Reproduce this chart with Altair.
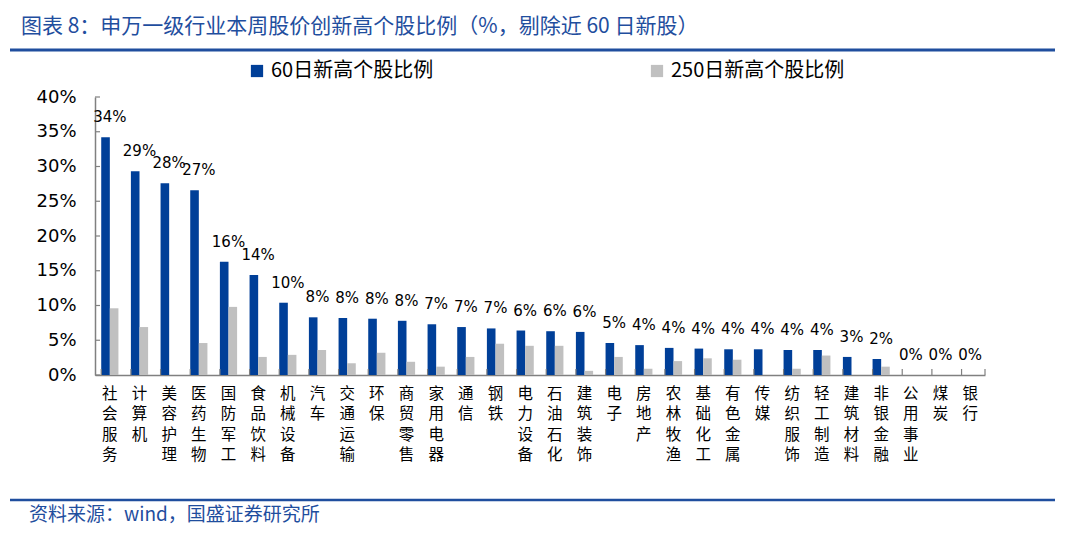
import altair as alt
import pandas as pd

categories = ["社会服务", "计算机", "美容护理", "医药生物", "国防军工", "食品饮料", "机械设备", "汽车",
              "交通运输", "环保", "商贸零售", "家用电器", "通信", "钢铁", "电力设备", "石油石化",
              "建筑装饰", "电子", "房地产", "农林牧渔", "基础化工", "有色金属", "传媒", "纺织服饰",
              "轻工制造", "建筑材料", "非银金融", "公用事业", "煤炭", "银行"]
series_names = ["60日新高个股比例", "250日新高个股比例"]
ratio_60 = [34.2, 29.3, 27.6, 26.6, 16.3, 14.4, 10.4, 8.3, 8.2, 8.1, 7.8, 7.3, 6.9, 6.7, 6.4,
            6.3, 6.2, 4.6, 4.3, 3.9, 3.8, 3.7, 3.7, 3.6, 3.6, 2.6, 2.3, 0, 0, 0]
ratio_250 = [9.6, 6.9, 0, 4.6, 9.8, 2.6, 2.9, 3.6, 1.7, 3.2, 1.9, 1.2, 2.6, 4.5, 4.2,
             4.2, 0.6, 2.6, 0.9, 2.0, 2.4, 2.2, 0, 0.9, 2.8, 0, 1.2, 0, 0, 0]
y_ticks = [0, 5, 10, 15, 20, 25, 30, 35, 40]

title_text = "图表 8：申万一级行业本周股价创新高个股比例（%，剔除近 60 日新股）"
source_text = "资料来源：wind，国盛证券研究所"

BLUE = "#003f98"
GREY = "#c0c0c0"
TITLE_BLUE = "#1f4e9e"
AXIS_GREY = "#808080"
CJK = "Noto Sans CJK SC"
NUM = "DejaVu Sans"

W, H = 890, 278

long_rows = []
for c, a, b in zip(categories, ratio_60, ratio_250):
    long_rows.append({"cat": c, "series": series_names[0], "value": a})
    long_rows.append({"cat": c, "series": series_names[1], "value": b})
df_long = pd.DataFrame(long_rows)
df60 = pd.DataFrame({"cat": categories, "value": ratio_60})
df_cats = pd.DataFrame({"cat": categories})
df_yt = pd.DataFrame({"value": y_ticks})
df_one = pd.DataFrame({"t": [title_text], "s": [source_text]})

xscale = alt.Scale(domain=categories, paddingInner=0.42, paddingOuter=0.21)
yscale = alt.Scale(domain=[0, 40], nice=False)

x_axis = alt.Axis(title=None, labelAngle=0, ticks=False, domainColor=AXIS_GREY, domainWidth=1.5,
                  labelExpr="split(datum.label, '')", labelFont=CJK, labelFontSize=15.5,
                  labelLineHeight=20.5, labelBaseline="top", labelPadding=11, labelColor="#000000",
                  labelOverlap=False)
y_axis = alt.Axis(title=None, values=y_ticks, labelExpr="datum.value + '%'", ticks=False, grid=False,
                  domainColor=AXIS_GREY, domainWidth=1.5, labelFont=NUM, labelFontSize=18,
                  labelPadding=19, labelColor="#000000", labelOverlap=False, labelFlush=False)

X = alt.X("cat:N", scale=xscale, sort=categories, axis=x_axis)
Y = alt.Y("value:Q", scale=yscale, axis=y_axis)

bars = alt.Chart(df_long).mark_bar().encode(
    x=X,
    xOffset=alt.XOffset("series:N", sort=series_names,
                        scale=alt.Scale(domain=series_names, paddingInner=0, paddingOuter=0)),
    y=Y,
    color=alt.Color("series:N", sort=series_names,
                    scale=alt.Scale(domain=series_names, range=[BLUE, GREY]),
                    legend=alt.Legend(title=None, orient="none", direction="horizontal",
                                      legendX=152, legendY=-36, symbolType="square",
                                      symbolSize=150, symbolStrokeWidth=0, labelFont=CJK,
                                      labelFontSize=20, labelOffset=4, columnPadding=213,
                                      labelLimit=0, labelColor="#000000")),
)

labels = alt.Chart(df60).transform_calculate(
    lab="format(datum.value, '.0f') + '%'"
).mark_text(font=NUM, fontSize=15, baseline="middle", dy=-20, color="#000000").encode(
    x=X, y=Y, text="lab:N",
)

xticks = alt.Chart(df_cats).mark_rule(color=AXIS_GREY, strokeWidth=1.2).encode(
    x=alt.X("cat:N", scale=xscale, sort=categories, bandPosition=0, axis=x_axis),
    y=alt.value(H - 6), y2=alt.value(H),
)
end_tick = alt.Chart(df_one).mark_rule(color=AXIS_GREY, strokeWidth=1.2).encode(
    x=alt.value(W), y=alt.value(H - 6), y2=alt.value(H),
)
yticks = alt.Chart(df_yt).mark_rule(color=AXIS_GREY, strokeWidth=1.2).encode(
    y=Y, x=alt.value(0), x2=alt.value(5),
)

title = alt.Chart(df_one).mark_text(font=CJK, fontSize=21, align="left", baseline="middle",
                                    color=TITLE_BLUE).encode(
    x=alt.value(-74), y=alt.value(-70), text="t:N")
top_line = alt.Chart(df_one).mark_rule(color=TITLE_BLUE, strokeWidth=3).encode(
    x=alt.value(-85), x2=alt.value(960), y=alt.value(-47))
bottom_line = alt.Chart(df_one).mark_rule(color=TITLE_BLUE, strokeWidth=2.5).encode(
    x=alt.value(-85), x2=alt.value(960), y=alt.value(403))
source = alt.Chart(df_one).mark_text(font=CJK, fontSize=19, align="left", baseline="middle",
                                     color=TITLE_BLUE).encode(
    x=alt.value(-66), y=alt.value(418), text="s:N")

chart = alt.layer(bars, labels, xticks, end_tick, yticks, title, top_line, bottom_line, source).properties(
    width=W, height=H,
    autosize=alt.AutoSizeParams(type="none"),
    padding={"left": 87, "top": 89, "right": 87, "bottom": 163},
    background="white",
).configure_view(stroke=None)

chart.save("out.html", embed_options={"renderer": "svg", "actions": False})
